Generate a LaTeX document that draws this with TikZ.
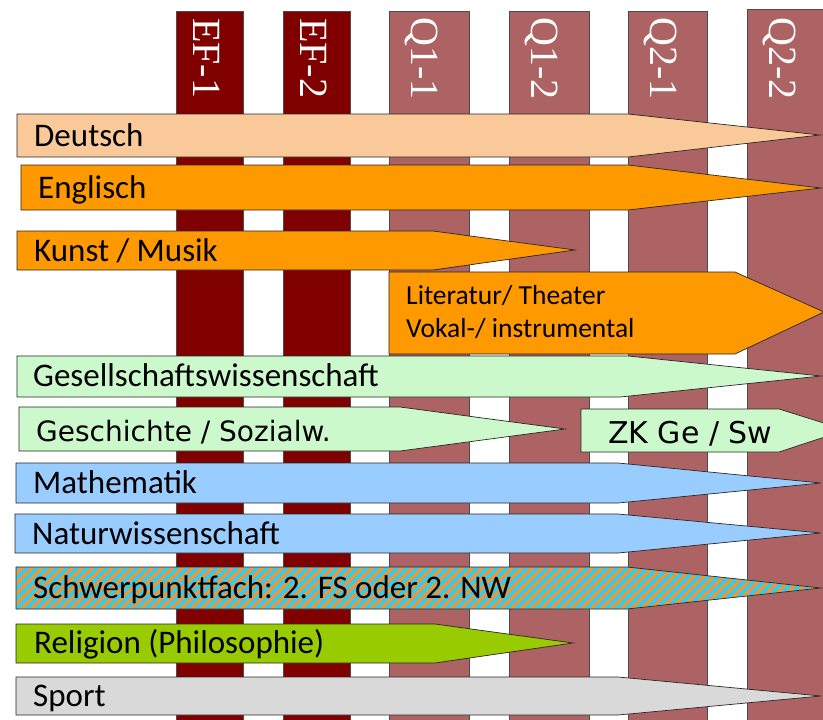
\documentclass[tikz,border=0pt]{standalone}
\usepackage{fontspec}
\setmainfont{Carlito}
\newfontfamily\headfont{Liberation Serif}
\newfontfamily\wideface{DejaVu Sans}
\definecolor{efred}{RGB}{128,0,0}
\definecolor{qred}{RGB}{173,99,99}
\definecolor{peach}{RGB}{250,201,153}
\definecolor{kurs}{RGB}{255,153,0}
\definecolor{mint}{RGB}{204,249,204}
\definecolor{sky}{RGB}{153,204,255}
\definecolor{lime}{RGB}{153,204,0}
\definecolor{silver}{RGB}{217,217,217}
\definecolor{stripeo}{RGB}{247,148,45}
\definecolor{stripec}{RGB}{51,204,238}

\begin{document}
\begin{tikzpicture}[x=1pt,y=-1pt,
    col/.style={draw=black!70,line width=0.6pt},
    bar/.style={draw=black!85,line width=0.7pt,line join=miter},
    subj/.style={anchor=base west,inner sep=0pt,font=\fontsize{33}{36}\selectfont},
    halb/.style={rotate=-90,anchor=base west,inner sep=0pt,text=white,font=\headfont\fontsize{40}{40}\selectfont}]
  \useasboundingbox (0,0) rectangle (823,720);
  % halbjahre
  \filldraw[col,fill=efred] (176,11) rectangle (243,725);
  \filldraw[col,fill=efred] (283,11) rectangle (350,725);
  \filldraw[col,fill=qred] (389,11) rectangle (469,725);
  \filldraw[col,fill=qred] (509,11) rectangle (589,725);
  \filldraw[col,fill=qred] (628,11) rectangle (707,725);
  \filldraw[col,fill=qred] (747,9) rectangle (830,725);
  \node (ef1) at (193,18) [halb] {EF-1};
  \node (ef2) at (300,18) [halb] {EF-2};
  \node (q11) at (411,17) [halb] {Q1-1};
  \node (q12) at (531,17) [halb] {Q1-2};
  \node (q21) at (650,17) [halb] {Q2-1};
  \node (q22) at (769,17) [halb] {Q2-2};
  % faecher
  \filldraw[bar,fill=peach] (17,114) -- (628,114) -- (820,135) -- (628,157) -- (17,157) -- cycle;
  \filldraw[bar,fill=kurs] (21,165) -- (628,165) -- (821,188) -- (628,210) -- (21,210) -- cycle;
  \filldraw[bar,fill=kurs] (17,231) -- (433,231) -- (575,250) -- (433,270) -- (17,270) -- cycle;
  \filldraw[bar,fill=kurs] (389,272) -- (735,272) -- (824,312) -- (735,354) -- (389,354) -- cycle;
  \filldraw[bar,fill=mint] (17,356) -- (628,356) -- (821,376) -- (620,397) -- (17,397) -- cycle;
  \filldraw[bar,fill=mint] (19,407) -- (400,407) -- (565,429) -- (400,451) -- (19,451) -- cycle;
  \filldraw[bar,fill=mint] (581,409) -- (779,409) -- (846,430) -- (779,452) -- (581,452) -- cycle;
  \filldraw[bar,fill=sky] (16,463) -- (618,463) -- (821,483) -- (618,503) -- (16,503) -- cycle;
  \filldraw[bar,fill=sky] (15,514) -- (618,514) -- (821,533) -- (618,553) -- (15,553) -- cycle;
  \begin{scope}
    \clip (16,567) -- (627,567) -- (821,588) -- (627,609) -- (16,609) -- cycle;
    \fill[stripeo] (0,560) rectangle (830,615);
    \foreach \x in {-60,-50,...,830}
      \draw[stripec,line width=3.6pt] (\x,615) -- (\x+55,560);
  \end{scope}
  \draw[bar] (16,567) -- (627,567) -- (821,588) -- (627,609) -- (16,609) -- cycle;
  \filldraw[bar,fill=lime] (16,624) -- (435,624) -- (573,643) -- (435,663) -- (16,663) -- cycle;
  \filldraw[bar,fill=silver] (16,677) -- (618,677) -- (821,696) -- (618,715) -- (16,715) -- cycle;
  % beschriftung
  \node (deutsch) at (34,146) [subj] {Deutsch};
  \node (englisch) at (38,198) [subj] {Englisch};
  \node (kunst) at (34,261) [subj] {Kunst / Musik};
  \node (lit) at (406,304) [subj,font=\fontsize{27.5}{30}\selectfont] {Literatur/ Theater};
  \node (vokal) at (406,337) [subj,font=\fontsize{27.5}{30}\selectfont] {Vokal-/ instrumental};
  \node (gesell) at (33,386) [subj] {Gesellschaftswissenschaft};
  \node (gesch) at (36,441) [subj,font=\wideface\fontsize{28}{32}\selectfont] {Geschichte / Sozialw.};
  \node (zk) at (608,443) [subj,font=\wideface\fontsize{30}{34}\selectfont] {ZK Ge / Sw};
  \node (mathe) at (33,493) [subj] {Mathematik};
  \node (natur) at (32,544) [subj] {Naturwissenschaft};
  \node (schwer) at (33,598) [subj] {Schwerpunktfach: 2. FS oder 2. NW};
  \node (reli) at (34,653) [subj] {Religion (Philosophie)};
  \node (sport) at (33,706) [subj] {Sport};
\end{tikzpicture}
\end{document}
